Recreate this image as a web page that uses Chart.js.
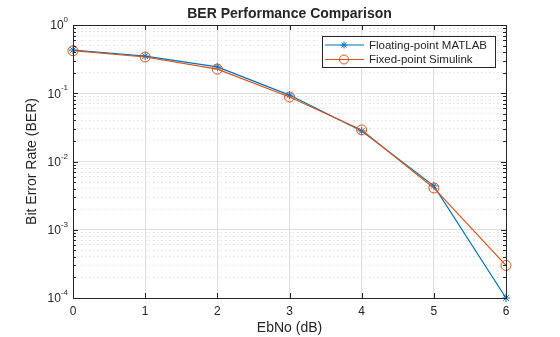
<!DOCTYPE html>
<html>
<head>
<meta charset="utf-8">
<script src="https://cdn.jsdelivr.net/npm/chart.js@4"></script>
<style>
  html, body { margin: 0; padding: 0; background: #fff; }
</style>
</head>
<body>
<canvas id="berChart" width="560" height="337"></canvas>
<script>
const ebno = [0, 1, 2, 3, 4, 5, 6]
const berFloating = [0.43, 0.35, 0.243, 0.094, 0.028, 0.0044, 0.0001]
const berFixed = [0.42, 0.34, 0.226, 0.088, 0.029, 0.0041, 0.0003]
const xTicks = [0, 1, 2, 3, 4, 5, 6]
const yDecades = [-4, -3, -2, -1, 0]
const seriesNames = ['Floating-point MATLAB', 'Fixed-point Simulink']

const FONT = "'Liberation Sans', Arial, sans-serif"
const INK = '#262626'
const BLUE = '#0072BD'
const ORANGE = '#D95319'

const isDecade = (v) => Math.abs(Math.log10(v) - Math.round(Math.log10(v))) < 1e-9

// MATLAB-ish frame: box, inward ticks, superscript labels, title, legend
const matlabAxes = {
  id: 'matlabAxes',
  afterDraw(chart) {
    const { ctx, chartArea: a, scales: { x, y } } = chart
    ctx.save()

    ctx.strokeStyle = INK
    ctx.lineWidth = 1
    ctx.beginPath()
    xTicks.forEach((v) => {
      const px = Math.round(x.getPixelForValue(v)) + 0.5
      ctx.moveTo(px, a.bottom); ctx.lineTo(px, a.bottom - 5)
      ctx.moveTo(px, a.top); ctx.lineTo(px, a.top + 5)
    })
    y.ticks.forEach((t) => {
      const py = Math.round(y.getPixelForValue(t.value)) + 0.5
      const len = isDecade(t.value) ? 5 : 3
      ctx.moveTo(a.left, py); ctx.lineTo(a.left + len, py)
      ctx.moveTo(a.right, py); ctx.lineTo(a.right - len, py)
    })
    ctx.stroke()
    ctx.strokeRect(Math.round(a.left) + 0.5, Math.round(a.top) + 0.5,
      Math.round(a.right - a.left), Math.round(a.bottom - a.top))

    // y tick labels 10^n
    ctx.fillStyle = INK
    ctx.textBaseline = 'middle'
    yDecades.forEach((e) => {
      const py = y.getPixelForValue(Math.pow(10, e))
      const exp = String(e)
      ctx.font = `8px ${FONT}`
      const ew = ctx.measureText(exp).width
      const right = a.left - 5
      ctx.textAlign = 'left'
      ctx.fillText(exp, right - ew, py - 5)
      ctx.font = `12px ${FONT}`
      ctx.textAlign = 'right'
      ctx.fillText('10', right - ew, py + 1)
    })

    // title
    ctx.font = `bold 14px ${FONT}`
    ctx.textAlign = 'center'
    ctx.textBaseline = 'middle'
    ctx.fillText('BER Performance Comparison', (a.left + a.right) / 2, 14)

    // legend
    const bx = 322, by = 36, bw = 173, bh = 31
    ctx.fillStyle = '#fff'
    ctx.fillRect(bx, by, bw, bh)
    ctx.strokeStyle = INK
    ctx.strokeRect(bx + 0.5, by + 0.5, bw, bh)
    chart.data.datasets.forEach((ds, i) => {
      const ry = by + 9 + i * 14.5
      ctx.strokeStyle = ds.borderColor
      ctx.lineWidth = 1.2
      ctx.beginPath()
      ctx.moveTo(bx + 3, ry); ctx.lineTo(bx + 42, ry)
      ctx.stroke()
      ctx.fillStyle = 'rgba(0,0,0,0)'
      ctx.lineWidth = 1
      Chart.helpers.drawPoint(ctx, {
        pointStyle: ds.pointStyle, radius: ds.pointRadius - 0.5, borderWidth: 1, rotation: 0
      }, bx + 22, ry)
      ctx.fillStyle = INK
      ctx.font = `11.5px ${FONT}`
      ctx.textAlign = 'left'
      ctx.fillText(ds.label, bx + 47, ry + 0.5)
    })
    ctx.restore()
  },
}

new Chart(document.getElementById('berChart'), {
  type: 'line',
  data: {
    datasets: [
      {
        label: seriesNames[0],
        data: ebno.map((v, i) => ({ x: v, y: berFloating[i] })),
        borderColor: BLUE,
        backgroundColor: 'rgba(0,0,0,0)',
        borderWidth: 1.2,
        pointStyle: 'star',
        pointRadius: 4,
        pointBorderWidth: 1,
        order: 1,
        clip: false,
      },
      {
        label: seriesNames[1],
        data: ebno.map((v, i) => ({ x: v, y: berFixed[i] })),
        borderColor: ORANGE,
        backgroundColor: 'rgba(0,0,0,0)',
        borderWidth: 1.2,
        pointStyle: 'circle',
        pointRadius: 5,
        pointBorderWidth: 1,
        order: 0,
        clip: false,
      },
    ],
  },
  options: {
    responsive: false,
    animation: false,
    layout: { padding: { left: 20, right: 54, top: 25, bottom: 0 } },
    plugins: { legend: { display: false }, tooltip: { enabled: false }, title: { display: false } },
    scales: {
      x: {
        type: 'linear',
        min: 0,
        max: 6,
        afterBuildTicks: (scale) => { scale.ticks = xTicks.map((v) => ({ value: v })) },
        afterFit: (scale) => { scale.height = 39 },
        ticks: { color: INK, font: { family: FONT, size: 12 }, padding: 6, maxRotation: 0 },
        grid: { color: '#dedede', drawTicks: false },
        border: { display: false },
        title: { display: true, text: 'EbNo (dB)', color: INK, font: { family: FONT, size: 14 }, padding: { top: 0, bottom: 0 } },
      },
      y: {
        type: 'logarithmic',
        min: 1e-4,
        max: 1,
        afterBuildTicks: (scale) => {
          const ticks = []
          yDecades.forEach((e) => {
            if (e === 0) { ticks.push({ value: 1, major: true }); return }
            for (let m = 1; m <= 9; m++) ticks.push({ value: m * Math.pow(10, e), major: m === 1 })
          })
          scale.ticks = ticks
        },
        afterFit: (scale) => { scale.width = 53 },
        ticks: { display: false, autoSkip: false },
        grid: {
          drawTicks: false,
          color: (c) => (c.tick && !isDecade(c.tick.value) ? '#e2e2e2' : '#dedede'),
        },
        border: {
          display: false,
          dash: (c) => (c.tick && !isDecade(c.tick.value) ? [2, 2, 1, 3] : []),
        },
        title: { display: true, text: 'Bit Error Rate (BER)', color: INK, font: { family: FONT, size: 14 } },
      },
    },
  },
  plugins: [matlabAxes],
})
</script>
</body>
</html>
